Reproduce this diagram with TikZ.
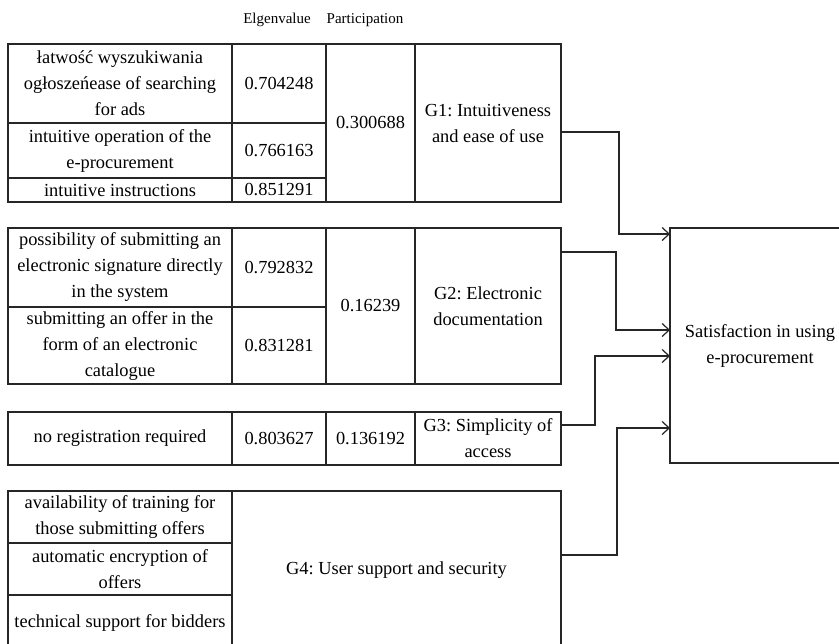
\documentclass[tikz,border=0pt]{standalone}
\usepackage{fontspec}
\setmainfont{Liberation Serif}
\usetikzlibrary{positioning,arrows.meta}

\begin{document}
\begin{tikzpicture}[x=0.5pt,y=-0.5pt]
\tikzstyle{cell}=[rectangle, draw=black!85, line width=0.6pt, inner sep=0pt, outer sep=0pt, align=center, font=\fontsize{9.2}{13}\selectfont\frenchspacing]
\tikzstyle{head}=[inner sep=0pt, font=\fontsize{7.5}{9}\selectfont]
\tikzstyle{conn}=[-{Straight Barb[length=3.5pt,width=6.5pt]}, line width=0.6pt, draw=black!85]
\useasboundingbox (0,0) rectangle (839,643);

\node[head] (hE) at (277,20) {Elgenvalue};
\node[head] (hP) at (365,20) {Participation};

% G1
\node[cell, minimum width=112pt, minimum height=39.5pt] (f11) at (120,83.5) {łatwość wyszukiwania\\ogłoszeńease of searching\\for ads};
\node[cell, minimum width=112pt, minimum height=27.5pt] (f12) at (120,150.5) {intuitive operation of the\\e-procurement};
\node[cell, minimum width=112pt, minimum height=12pt] (f13) at (120,190) {intuitive instructions};
\node[cell, minimum width=47pt, minimum height=39.5pt] (e11) at (279,83.5) {0.704248};
\node[cell, minimum width=47pt, minimum height=27.5pt] (e12) at (279,150.5) {0.766163};
\node[cell, minimum width=47pt, minimum height=12pt] (e13) at (279,190) {0.851291};
\node[cell, minimum width=44.5pt, minimum height=79pt] (p1) at (370.5,123) {0.300688};
\node[cell, minimum width=73pt, minimum height=79pt] (g1) at (488,123) {G1: Intuitiveness\\and ease of use};

% G2
\node[cell, minimum width=112pt, minimum height=39.5pt] (f21) at (120,267.5) {possibility of submitting an\\electronic signature directly\\in the system};
\node[cell, minimum width=112pt, minimum height=38.5pt] (f22) at (120,345.5) {submitting an offer in the\\form of an electronic\\catalogue};
\node[cell, minimum width=47pt, minimum height=39.5pt] (e21) at (279,267.5) {0.792832};
\node[cell, minimum width=47pt, minimum height=38.5pt] (e22) at (279,345.5) {0.831281};
\node[cell, minimum width=44.5pt, minimum height=78pt] (p2) at (370.5,306) {0.16239};
\node[cell, minimum width=73pt, minimum height=78pt] (g2) at (488,306) {G2: Electronic\\documentation};

% G3
\node[cell, minimum width=112pt, minimum height=26.5pt] (f31) at (120,438.5) {no registration required};
\node[cell, minimum width=47pt, minimum height=26.5pt] (e31) at (279,438.5) {0.803627};
\node[cell, minimum width=44.5pt, minimum height=26.5pt] (p3) at (370.5,438.5) {0.136192};
\node[cell, minimum width=73pt, minimum height=26.5pt] (g3) at (488,438.5) {G3: Simplicity of\\access};

% G4
\node[cell, minimum width=112pt, minimum height=26pt] (f41) at (120,517) {availability of training for\\those submitting offers};
\node[cell, minimum width=112pt, minimum height=26pt] (f42) at (120,569) {automatic encryption of\\offers};
\node[cell, minimum width=112pt, minimum height=27.5pt] (f43) at (120,622.5) {technical support for bidders};
\node[cell, minimum width=164.5pt, minimum height=79.5pt] (g4) at (396.5,570.5) {G4: User support and security};

\node[cell, minimum width=90pt, minimum height=117.5pt] (sat) at (760,345.5) {Satisfaction in using\\e-procurement};

\draw[conn] (g1.east |- 0,132) -- ++(58,0) |- (sat.west |- 0,234);
\draw[conn] (g2.east |- 0,252) -- ++(55,0) |- (sat.west |- 0,330);
\draw[conn] (g3.east |- 0,425) -- ++(34,0) |- (sat.west |- 0,356);
\draw[conn] (g4.east |- 0,555) -- ++(56,0) |- (sat.west |- 0,428);

\end{tikzpicture}
\end{document}
